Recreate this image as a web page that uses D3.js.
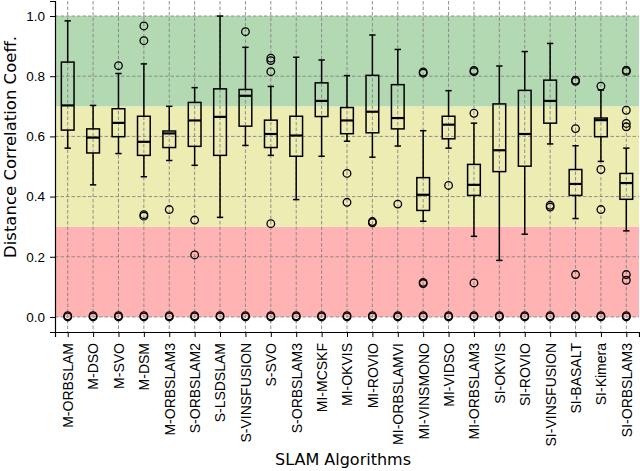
<!DOCTYPE html>
<html lang="en">
<head>
    <meta charset="UTF-8">
    <title>Distance Correlation per SLAM Algorithm</title>
    <style>
        body { margin: 0; background: #fff; }
        svg { display: block; font-family: "DejaVu Sans", sans-serif; }
    </style>
</head>
<body>
<div id="chart"></div>

<script src="https://d3js.org/d3.v7.min.js"></script>
<script>
const categories = ["M-ORBSLAM", "M-DSO", "M-SVO", "M-DSM", "M-ORBSLAM3", "S-ORBSLAM2", "S-LSDSLAM",
    "S-VINSFUSION", "S-SVO", "S-ORBSLAM3", "MI-MCSKF", "MI-OKVIS", "MI-ROVIO", "MI-ORBSLAMVI",
    "MI-VINSMONO", "MI-VIDSO", "MI-ORBSLAM3", "SI-OKVIS", "SI-ROVIO", "SI-VINSFUSION", "SI-BASALT",
    "SI-Kimera", "SI-ORBSLAM3"];

const whiskerLow  = [0.561, 0.439, 0.543, 0.466, 0.520, 0.504, 0.331, 0.570, 0.537, 0.390, 0.534, 0.584,
    0.531, 0.568, 0.318, 0.561, 0.268, 0.188, 0.275, 0.575, 0.327, 0.517, 0.286];
const q1          = [0.621, 0.545, 0.599, 0.537, 0.563, 0.567, 0.537, 0.634, 0.563, 0.534, 0.666, 0.609,
    0.612, 0.625, 0.354, 0.592, 0.404, 0.483, 0.501, 0.644, 0.404, 0.599, 0.391];
const medians     = [0.703, 0.596, 0.645, 0.582, 0.610, 0.653, 0.665, 0.735, 0.608, 0.603, 0.718, 0.653,
    0.682, 0.661, 0.406, 0.639, 0.439, 0.554, 0.608, 0.718, 0.442, 0.654, 0.445];
const q3          = [0.847, 0.625, 0.692, 0.667, 0.618, 0.713, 0.758, 0.756, 0.654, 0.667, 0.778, 0.696,
    0.803, 0.772, 0.463, 0.667, 0.507, 0.708, 0.753, 0.787, 0.490, 0.661, 0.477];
const whiskerHigh = [0.984, 0.703, 0.809, 0.841, 0.700, 0.762, 1.000, 0.896, 0.766, 0.863, 0.854, 0.802,
    0.937, 0.889, 0.619, 0.752, 0.644, 0.834, 0.882, 0.909, 0.569, 0.754, 0.561];
const fliers = [
    [0, 0.004],
    [0, 0.004],
    [0, 0.004, 0.835],
    [0, 0.004, 0.335, 0.340, 0.918, 0.967],
    [0, 0.004, 0.357],
    [0, 0.004, 0.206, 0.322],
    [0, 0.004],
    [0, 0.004, 0.948],
    [0, 0.004, 0.310, 0.815, 0.852, 0.860],
    [0, 0.004],
    [0, 0.004],
    [0, 0.004, 0.381, 0.477],
    [0, 0.004, 0.313, 0.317],
    [0, 0.004, 0.375],
    [0, 0.004, 0.111, 0.115, 0.810, 0.814],
    [0, 0.004, 0.437],
    [0, 0.004, 0.113, 0.677, 0.815, 0.819],
    [0, 0.004],
    [0, 0.004],
    [0, 0.004, 0.365, 0.371],
    [0, 0.004, 0.141, 0.626, 0.783, 0.787],
    [0, 0.004, 0.357, 0.490, 0.767],
    [0, 0.004, 0.122, 0.141, 0.632, 0.643, 0.687, 0.816, 0.820]
];

// coloured quality bands: [from, to, colour]
const bands = [
    [0.0, 0.3, "#ffb3b3"],
    [0.3, 0.7, "#ececb3"],
    [0.7, 1.0, "#b3d9b3"]
];
const yTicks = [0, 0.2, 0.4, 0.6, 0.8, 1.0];

const width = 640, height = 471;
const margin = { left: 55, right: 1, top: 1, bottom: 139 };

const svg = d3.select("#chart").append("svg")
    .attr("width", width)
    .attr("height", height);

const x = d3.scalePoint()
    .domain(categories)
    .range([margin.left, width - margin.right])
    .padding(0.5);

const y = d3.scaleLinear()
    .domain([-0.05, 1.05])
    .range([height - margin.bottom, margin.top]);

const boxW = x.step() * 0.5;
const capW = boxW * 0.5;

// bands
svg.append("g").selectAll("rect")
    .data(bands)
    .enter().append("rect")
    .attr("x", margin.left)
    .attr("width", width - margin.left - margin.right)
    .attr("y", d => y(d[1]))
    .attr("height", d => y(d[0]) - y(d[1]))
    .attr("fill", d => d[2]);

// grid
const grid = svg.append("g")
    .attr("stroke", "#858585")
    .attr("stroke-width", 0.9)
    .attr("stroke-dasharray", "3.5,2");

grid.selectAll(".gy")
    .data(yTicks)
    .enter().append("line")
    .attr("x1", margin.left).attr("x2", width - margin.right)
    .attr("y1", d => y(d)).attr("y2", d => y(d));

grid.selectAll(".gx")
    .data(categories)
    .enter().append("line")
    .attr("x1", d => x(d)).attr("x2", d => x(d))
    .attr("y1", margin.top).attr("y2", height - margin.bottom);

// boxes
const boxes = svg.append("g")
    .selectAll("g")
    .data(categories)
    .enter().append("g")
    .attr("stroke", "#000")
    .attr("fill", "none");

boxes.append("line")
    .attr("x1", d => x(d)).attr("x2", d => x(d))
    .attr("y1", (d, i) => y(whiskerLow[i])).attr("y2", (d, i) => y(q1[i]))
    .attr("stroke-width", 1.5);

boxes.append("line")
    .attr("x1", d => x(d)).attr("x2", d => x(d))
    .attr("y1", (d, i) => y(q3[i])).attr("y2", (d, i) => y(whiskerHigh[i]))
    .attr("stroke-width", 1.5);

boxes.append("line")
    .attr("x1", d => x(d) - capW / 2).attr("x2", d => x(d) + capW / 2)
    .attr("y1", (d, i) => y(whiskerLow[i])).attr("y2", (d, i) => y(whiskerLow[i]))
    .attr("stroke-width", 1.5);

boxes.append("line")
    .attr("x1", d => x(d) - capW / 2).attr("x2", d => x(d) + capW / 2)
    .attr("y1", (d, i) => y(whiskerHigh[i])).attr("y2", (d, i) => y(whiskerHigh[i]))
    .attr("stroke-width", 1.5);

boxes.append("rect")
    .attr("x", d => x(d) - boxW / 2)
    .attr("width", boxW)
    .attr("y", (d, i) => y(q3[i]))
    .attr("height", (d, i) => y(q1[i]) - y(q3[i]))
    .attr("stroke-width", 1.5);

boxes.append("line")
    .attr("x1", d => x(d) - boxW / 2).attr("x2", d => x(d) + boxW / 2)
    .attr("y1", (d, i) => y(medians[i])).attr("y2", (d, i) => y(medians[i]))
    .attr("stroke-width", 2.2);

boxes.selectAll("circle")
    .data((d, i) => fliers[i].map(v => ({ cat: d, v: v })))
    .enter().append("circle")
    .attr("cx", d => x(d.cat))
    .attr("cy", d => y(d.v))
    .attr("r", 3.8)
    .attr("stroke-width", 1.3);

// axes
const xAxis = svg.append("g")
    .attr("transform", `translate(0,${height - margin.bottom})`)
    .call(d3.axisBottom(x).tickSizeOuter(0).tickSize(5));

xAxis.select(".domain").attr("stroke-width", 1.2);
xAxis.selectAll("text")
    .attr("font-size", 14)
    .attr("fill", "#000")
    .attr("transform", "rotate(-90)")
    .attr("text-anchor", "end")
    .attr("x", -11)
    .attr("y", 0)
    .attr("dy", "0.35em");

const yAxis = svg.append("g")
    .attr("transform", `translate(${margin.left},0)`)
    .call(d3.axisLeft(y).tickValues(yTicks).tickFormat(d3.format(".1f"))
        .tickSizeOuter(0).tickSize(5).tickPadding(5));

yAxis.select(".domain").attr("stroke-width", 1.2);
yAxis.selectAll("text")
    .attr("font-size", 13.5)
    .attr("fill", "#000");

svg.append("text")
    .attr("x", 343)
    .attr("y", 465)
    .attr("text-anchor", "middle")
    .attr("font-size", 16)
    .text("SLAM Algorithms");

svg.append("text")
    .attr("transform", `translate(10,147) rotate(-90)`)
    .attr("text-anchor", "middle")
    .attr("font-size", 16.5)
    .attr("dy", "0.35em")
    .text("Distance Correlation Coeff.");
</script>

</body>
</html>
